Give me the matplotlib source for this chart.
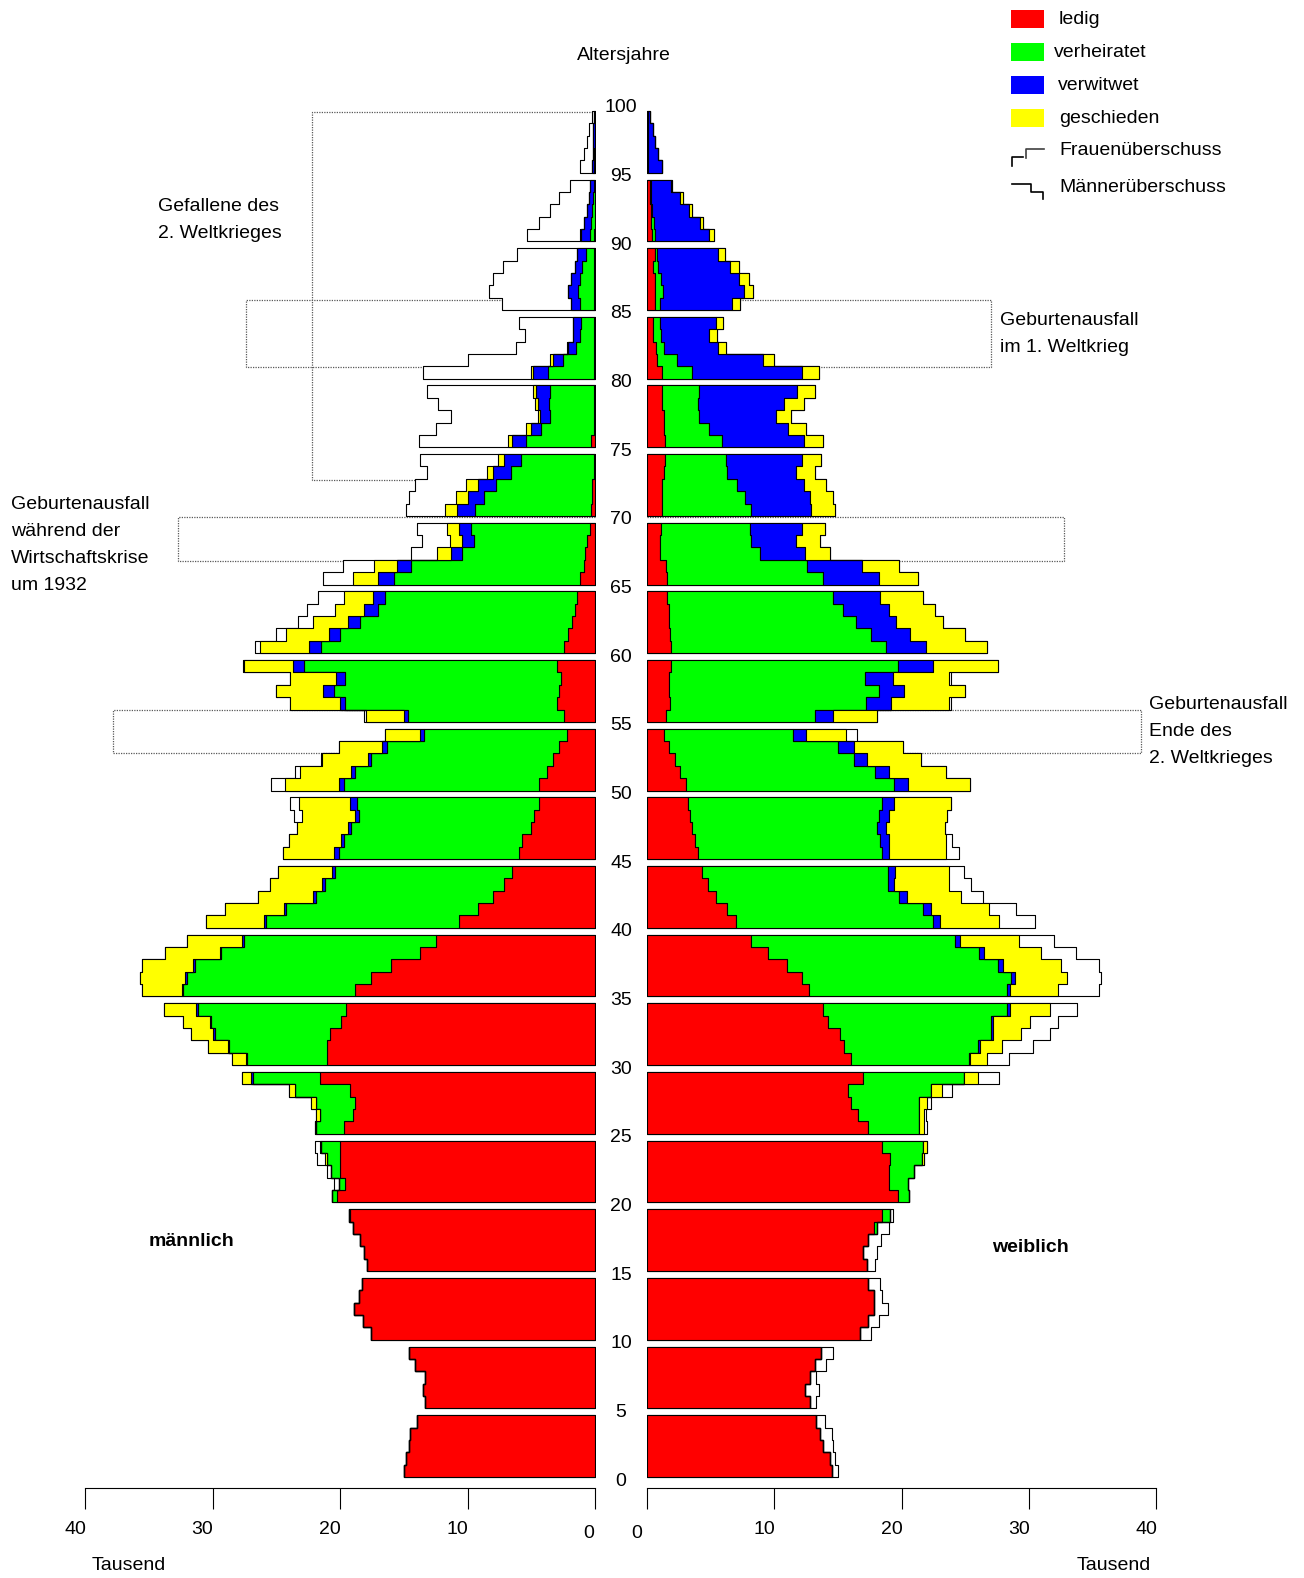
import numpy as np
import matplotlib
matplotlib.use("Agg")
import matplotlib.pyplot as plt
from matplotlib import transforms
from matplotlib.patches import Rectangle

plt.rcParams['font.family'] = ['Liberation Sans', 'DejaVu Sans']
plt.rcParams['font.size'] = 14

#########################################################################
# Data (Tausend), age 0..99
#########################################################################

ages = np.arange(100)

m_ledig = [15.0, 14.8, 14.6, 14.5, 14.0, 13.3, 13.5, 13.3, 14.1, 14.6,
           17.6, 18.2, 18.9, 18.5, 18.3, 17.9, 18.1, 18.4, 19.0, 19.2,
           20.2, 19.6, 20.0, 20.0, 20.0, 19.7, 19.0, 18.8, 19.2, 21.6,
           21.0, 21.0, 20.8, 19.9, 19.5, 18.8, 17.6, 16.0, 13.7, 12.5,
           10.7, 9.2, 8.0, 7.1, 6.5, 6.0, 5.7, 5.0, 4.8, 4.4,
           4.4, 3.8, 3.3, 2.8, 2.2, 2.4, 3.0, 2.8, 2.7, 3.0,
           2.4, 2.1, 1.8, 1.6, 1.4, 1.2, 0.9, 0.8, 0.6, 0.4,
           0.3, 0.2, 0.2, 0.1, 0.1, 0.3, 0.1, 0.1, 0.1, 0.1,
           0.1, 0.05, 0.05, 0.05, 0.05, 0.05, 0.05, 0.05, 0.05, 0.05,
           0.05, 0.03, 0.02, 0.02, 0.01, 0.01, 0, 0, 0, 0]
m_verh = [0] * 19 + [0.1,
          0.4, 0.5, 0.7, 1.0, 1.5, 2.2, 2.6, 3.1, 4.3, 5.2,
          6.3, 7.7, 9.0, 10.2, 11.6, 13.5, 14.4, 15.4, 15.6, 15.0,
          15.1, 15.0, 13.9, 14.1, 13.9, 14.1, 14.0, 14.1, 13.7, 14.3,
          15.3, 15.0, 14.3, 13.5, 11.2, 12.3, 16.6, 17.7, 16.9, 19.8,
          19.1, 17.9, 16.6, 15.4, 15.1, 14.6, 13.5, 9.6, 8.9, 9.3,
          9.1, 8.5, 7.6, 6.5, 5.7, 5.1, 4.1, 3.4, 3.5, 3.4,
          3.6, 2.45, 1.45, 1.15, 1.05, 1.15, 1.25, 1.15, 0.95, 0.65,
          0.35, 0.27, 0.2, 0.15, 0.1, 0.05, 0.05, 0.03, 0.02, 0.0]
m_verw = [0] * 29 + [0.2,
          0.05, 0.05, 0.2, 0.1, 0.2, 0.1, 0.15, 0.1, 0.1, 0.15,
          0.2, 0.2, 0.2, 0.2, 0.2, 0.4, 0.2, 0.3, 0.3, 0.5,
          0.4, 0.3, 0.2, 0.4, 0.3, 0.3, 0.4, 0.8, 0.7, 0.9,
          0.9, 0.9, 1.0, 1.1, 0.9, 1.2, 1.1, 0.9, 0.9, 1.0,
          1.4, 1.3, 1.4, 1.4, 1.3, 1.1, 0.8, 0.8, 0.9, 1.1,
          1.2, 0.8, 0.6, 0.5, 0.6, 0.7, 0.8, 0.7, 0.6, 0.7,
          0.7, 0.6, 0.43, 0.3, 0.25, 0.15, 0.12, 0.1, 0.1, 0.08]
m_gesch = [0] * 23 + [0.2, 0.1, 0.1, 0.3, 0.4, 0.5, 0.7,
           1.1, 1.6, 1.7, 2.1, 2.5, 3.1, 3.55, 4.0, 4.3, 4.35,
           4.5, 4.6, 4.3, 4.1, 4.3, 4.0, 4.1, 4.0, 4.2, 4.0,
           4.2, 4.0, 3.6, 3.4, 2.8, 3.0, 3.9, 3.7, 3.6, 3.8,
           3.9, 3.3, 2.7, 2.3, 2.3, 2.0, 1.8, 1.1, 1.0, 0.9,
           1.0, 0.9, 0.9, 0.5, 0.5, 0.3, 0.4, 0.2, 0.2, 0.3,
           0.1, 0.2, 0.1, 0, 0, 0, 0, 0, 0, 0,
           0.1, 0, 0, 0, 0, 0, 0, 0, 0, 0]

w_ledig = [14.5, 14.4, 13.8, 13.6, 13.3, 12.8, 12.4, 12.8, 13.2, 13.7,
           16.7, 17.4, 17.8, 17.8, 17.4, 17.3, 17.0, 17.4, 17.8, 18.5,
           19.7, 19.0, 19.0, 19.1, 18.5, 17.4, 16.6, 16.0, 15.8, 17.0,
           16.0, 15.5, 15.2, 14.2, 13.8, 12.7, 12.2, 11.0, 9.5, 8.2,
           7.0, 6.3, 5.4, 4.8, 4.3, 4.0, 3.8, 3.5, 3.4, 3.2,
           3.1, 2.6, 2.2, 1.7, 1.3, 1.5, 1.8, 1.7, 1.7, 1.9,
           1.9, 1.8, 1.7, 1.7, 1.6, 1.6, 1.5, 1.0, 1.0, 1.1,
           1.2, 1.2, 1.2, 1.3, 1.4, 1.4, 1.3, 1.3, 1.2, 1.2,
           1.2, 0.8, 0.7, 0.5, 0.5, 0.6, 0.6, 0.6, 0.5, 0.6,
           0.4, 0.35, 0.3, 0.25, 0.25, 0.1, 0.1, 0.05, 0.05, 0.05]
w_verh = [0] * 18 + [0.3, 0.6,
          0.9, 1.5, 2.0, 2.5, 3.2, 4.0, 4.8, 5.4, 6.5, 7.9,
          9.3, 10.5, 11.8, 12.8, 14.5, 15.6, 16.4, 16.6, 16.6, 16.0,
          15.5, 15.4, 14.4, 14.1, 14.6, 14.5, 14.5, 14.6, 14.8, 15.3,
          16.3, 15.3, 14.1, 13.3, 10.2, 11.7, 15.4, 16.5, 15.4, 17.8,
          16.9, 15.8, 14.7, 13.7, 13.0, 12.2, 11.1, 7.9, 7.2, 7.0,
          7.0, 6.5, 5.9, 5.0, 4.8, 4.5, 3.6, 2.8, 2.8, 2.9,
          2.3, 1.55, 0.6, 0.6, 0.5, 0.45, 0.65, 0.5, 0.4, 0.2,
          0.2, 0.2, 0.1, 0.05, 0.05, 0, 0, 0, 0, 0]
w_verw = [0] * 29 + [0.05,
          0.1, 0.2, 0.2, 0.2, 0.2, 0.2, 0.3, 0.4, 0.4, 0.4,
          0.5, 0.6, 0.6, 0.5, 0.6, 0.5, 0.7, 0.7, 0.8, 0.9,
          1.1, 1.1, 1.0, 1.3, 1.0, 1.4, 2.0, 2.0, 2.2, 2.8,
          3.1, 3.1, 3.2, 3.6, 3.7, 4.4, 4.3, 3.5, 3.5, 4.1,
          4.7, 5.1, 5.2, 5.4, 6.0, 6.4, 6.2, 6.0, 6.8, 7.7,
          8.7, 6.75, 4.3, 3.8, 4.4, 5.65, 6.35, 6.1, 5.6, 4.8,
          4.3, 3.65, 2.9, 2.3, 1.6, 1.1, 0.75, 0.6, 0.4, 0.2]
w_gesch = [0] * 23 + [0.2, 0.3, 0.4, 0.4, 0.6, 0.9, 1.05,
           1.3, 1.7, 2.2, 2.9, 3.2, 3.8, 4.1, 4.5, 4.5, 4.6,
           4.7, 4.6, 4.3, 4.3, 4.2, 4.5, 4.5, 4.6, 4.6, 4.5,
           4.9, 4.5, 4.2, 3.8, 3.1, 3.5, 4.5, 4.8, 4.4, 5.1,
           4.8, 4.3, 3.7, 3.6, 3.4, 3.1, 2.9, 2.0, 1.9, 1.8,
           1.9, 1.8, 1.8, 1.5, 1.5, 1.5, 1.4, 1.2, 1.5, 1.4,
           1.3, 0.9, 0.6, 0.6, 0.6, 0.6, 0.7, 0.8, 0.7, 0.5,
           0.4, 0.2, 0.2, 0.2, 0.05, 0, 0, 0, 0, 0]

status = ['ledig', 'verheiratet', 'verwitwet', 'geschieden']
colors = ['#ff0000', '#00ff00', '#0000ff', '#ffff00']

x_ticks = [0, 10, 20, 30, 40]
age_ticks = list(range(0, 101, 5))

#########################################################################
# Figure
#########################################################################

W, H = 1304, 1578
fig = plt.figure(figsize=(W / 100, H / 100), dpi=100)
y_bot, y_top = 1488, 104
axL = fig.add_axes([85 / W, (H - y_bot) / H, 510 / W, (y_bot - y_top) / H])
axR = fig.add_axes([647 / W, (H - y_bot) / H, 509 / W, (y_bot - y_top) / H])

row_h = 0.9   # five one-year rows fill 4.5 years, then a gap


def draw_side(ax, parts, other):
    cum = np.cumsum(np.array(parts, dtype=float), axis=0)
    outer = np.maximum(cum[-1], np.array(other, dtype=float))
    for a0 in range(0, 100, 5):
        y = a0 + row_h * np.arange(6)

        def ext(v):
            v = np.asarray(v, dtype=float)
            return np.append(v[a0:a0 + 5], v[a0 + 4])
        ax.fill_betweenx(y, 0, ext(outer), step='post', facecolor='white',
                         edgecolor='black', lw=0.8, zorder=2)
        inner = np.zeros(100)
        for k in range(4):
            ax.fill_betweenx(y, ext(inner), ext(cum[k]), step='post',
                             facecolor=colors[k], edgecolor='black',
                             lw=0.8, zorder=3)
            inner = cum[k]


m_parts = [m_ledig, m_verh, m_verw, m_gesch]
w_parts = [w_ledig, w_verh, w_verw, w_gesch]
m_total = np.sum(m_parts, axis=0)
w_total = np.sum(w_parts, axis=0)

draw_side(axL, m_parts, w_total)
draw_side(axR, w_parts, m_total)

for ax in (axL, axR):
    ax.set_ylim(-0.8, 100)
    ax.patch.set_alpha(0)
    for s in ('top', 'left', 'right'):
        ax.spines[s].set_visible(False)
    ax.spines['bottom'].set_linewidth(0.8)
    ax.set_yticks([])
    ax.set_xticks(x_ticks)
    ax.set_xticklabels([])
    ax.tick_params(axis='x', length=15, width=0.8, direction='out')
axL.set_xlim(40, 0)
axR.set_xlim(0, 40)

for v in x_ticks:
    dxl = -6 if v == 0 else -10
    dyl = -46 if v == 0 else -41
    axL.annotate(str(v), xy=(v, 0), xycoords=('data', 'axes fraction'),
                 xytext=(dxl, dyl), textcoords='offset pixels',
                 ha='center', va='center', annotation_clip=False)
    axR.annotate(str(v), xy=(v, 0), xycoords=('data', 'axes fraction'),
                 xytext=(-10, -46 if v == 0 else -41), textcoords='offset pixels',
                 ha='center', va='center', annotation_clip=False)

# age labels between the two halves
for a in age_ticks:
    axR.annotate(str(a), xy=(621 / W, a), xycoords=(fig.transFigure, axR.transData),
                 xytext=(0, -4), textcoords='offset pixels',
                 ha='center', va='center', annotation_clip=False)

# dotted boxes (birth deficits, war losses)
dot = dict(color='0.35', lw=0.9, ls=(0, (1, 1)), zorder=1, clip_on=False)


def box(ax, x, y0, y1):
    ax.plot([0, x, x, 0], [y1, y1, y0, y0], **dot)


box(axL, 22.2, 72.65, 99.45)
box(axL, 27.4, 80.85, 85.7)
box(axR, 27.0, 80.85, 85.7)
box(axL, 32.7, 66.75, 69.95)
box(axR, 32.8, 66.75, 69.95)
box(axL, 37.8, 52.7, 55.9)
box(axR, 38.8, 52.7, 55.9)

# overlay in pixel coordinates for texts and legend
ov = fig.add_axes([0, 0, 1, 1])
ov.set_xlim(0, W)
ov.set_ylim(H, 0)
ov.axis('off')
ov.patch.set_alpha(0)

ov.text(624, 55, 'Altersjahre', ha='center', va='center')
ov.text(191, 1242, 'männlich', ha='center', va='center', fontweight='bold')
ov.text(1030, 1247, 'weiblich', ha='center', va='center', fontweight='bold')
ov.text(129, 1566, 'Tausend', ha='center', va='center')
ov.text(1114, 1566, 'Tausend', ha='center', va='center')

ov.text(158, 206, 'Gefallene des', va='center')
ov.text(158, 233, '2. Weltkrieges', va='center')
ov.text(1000, 320, 'Geburtenausfall', va='center')
ov.text(1000, 347, 'im 1. Weltkrieg', va='center')
for i, s in enumerate(['Geburtenausfall', 'während der', 'Wirtschaftskrise', 'um 1932']):
    ov.text(11, 504 + 27.3 * i, s, va='center')
for i, s in enumerate(['Geburtenausfall', 'Ende des', '2. Weltkrieges']):
    ov.text(1149, 704 + 27 * i, s, va='center')

# legend
leg_y = [19, 52, 85, 118]
leg_tx = [1059, 1054, 1058, 1059]
for c, s, yy, tx in zip(colors, status, leg_y, leg_tx):
    ov.add_patch(Rectangle((1011, yy - 9), 33, 18, facecolor=c, edgecolor='none'))
    ov.text(tx, yy, s, va='center')
ov.plot([1012, 1012, 1023], [166, 157, 157], color='black', lw=1.2)
ov.plot([1026, 1026, 1044], [158, 149, 149], color='0.25', lw=1.2)
ov.text(1059, 150, 'Frauenüberschuss', va='center')
ov.plot([1012, 1031, 1031, 1043, 1043], [184, 184, 192, 192, 199], color='black', lw=1.2)
ov.text(1059, 187, 'Männerüberschuss', va='center')

fig.savefig('out.png', dpi=100)
